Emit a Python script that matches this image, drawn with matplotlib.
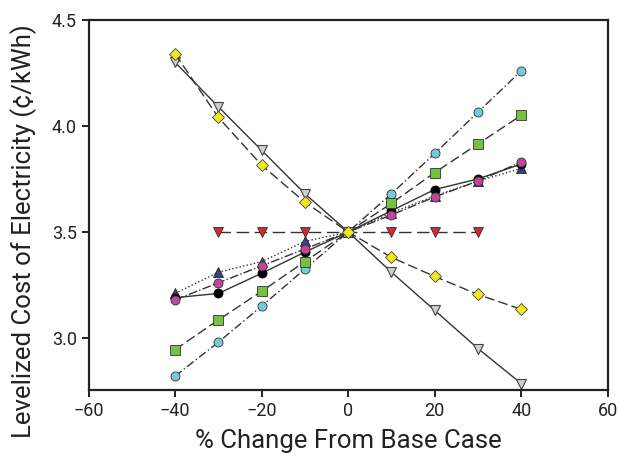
import matplotlib.pyplot as plt

x = [-40, -30, -20, -10, 0, 10, 20, 30, 40]
x_red = [-30, -20, -10, 0, 10, 20, 30]

yellow = [4.34, 4.04, 3.815, 3.64, 3.5, 3.38, 3.29, 3.205, 3.135]
gray = [4.30, 4.09, 3.885, 3.68, 3.5, 3.31, 3.13, 2.95, 2.785]
red = [3.5, 3.5, 3.5, 3.5, 3.5, 3.5, 3.5]
cyan = [2.82, 2.98, 3.15, 3.325, 3.5, 3.68, 3.87, 4.065, 4.26]
green = [2.945, 3.085, 3.22, 3.36, 3.5, 3.635, 3.78, 3.915, 4.05]
black = [3.19, 3.21, 3.305, 3.405, 3.5, 3.60, 3.70, 3.75, 3.82]
navy = [3.21, 3.31, 3.36, 3.455, 3.5, 3.59, 3.67, 3.74, 3.80]
magenta = [3.18, 3.26, 3.34, 3.42, 3.5, 3.58, 3.665, 3.74, 3.83]

plt.rcParams['font.family'] = ['Roboto', 'DejaVu Sans']
fig = plt.figure(figsize=(6.19, 4.62), dpi=100)
ax = fig.add_axes([0.143, 0.156, 0.839, 0.801])

lc = '#333333'
ms = 6.5
ax.plot(x, navy, ls=':', color=lc, lw=1, marker='^', ms=ms, mfc='#3b3f8f', mec='#222222', mew=0.6)
ax.plot(x, black, ls='-', color=lc, lw=1, marker='o', ms=ms, mfc='black', mec='black', mew=0.6)
ax.plot(x, magenta, ls='-.', color=lc, lw=1, marker='o', ms=ms, mfc='#c2449c', mec='#333333', mew=0.6)
ax.plot(x, cyan, ls=(0, (6, 2, 1, 2)), color=lc, lw=1, marker='o', ms=ms, mfc='#74cbdc', mec='#333333', mew=0.6)
ax.plot(x, green, ls=(0, (7, 3)), color=lc, lw=1, marker='s', ms=ms, mfc='#76c043', mec='#333333', mew=0.6)
ax.plot(x_red, red, ls=(0, (9, 4)), color=lc, lw=1, marker='v', ms=ms, mfc='#d42a2e', mec='#333333', mew=0.6)
ax.plot(x, gray, ls='-', color=lc, lw=1, marker='v', ms=ms + 1, mfc='#cfcfcf', mec='#444444', mew=0.8)
ax.plot(x, yellow, ls=(0, (7, 3)), color=lc, lw=1, marker='D', ms=ms, mfc='#f2e81e', mec='#444444', mew=0.6)

ax.set_xlim(-60, 60)
ax.set_ylim(2.755, 4.5)
ax.set_xticks([-60, -40, -20, 0, 20, 40, 60])
ax.set_yticks([3.0, 3.5, 4.0, 4.5])
ax.set_yticklabels(['3.0', '3.5', '4.0', '4.5'])
for s in ax.spines.values():
    s.set_linewidth(1.6)
    s.set_color('#222222')
ax.tick_params(direction='out', length=5, width=1.4, labelsize=13, colors='#222222')
ax.set_xlabel('% Change From Base Case', fontsize=18.5, color='#222222', labelpad=7)
ax.set_ylabel('Levelized Cost of Electricity (¢/kWh)', fontsize=18.5, color='#222222')
ax.yaxis.set_label_coords(-0.1, 0.43)

fig.savefig('out.png', dpi=100)
